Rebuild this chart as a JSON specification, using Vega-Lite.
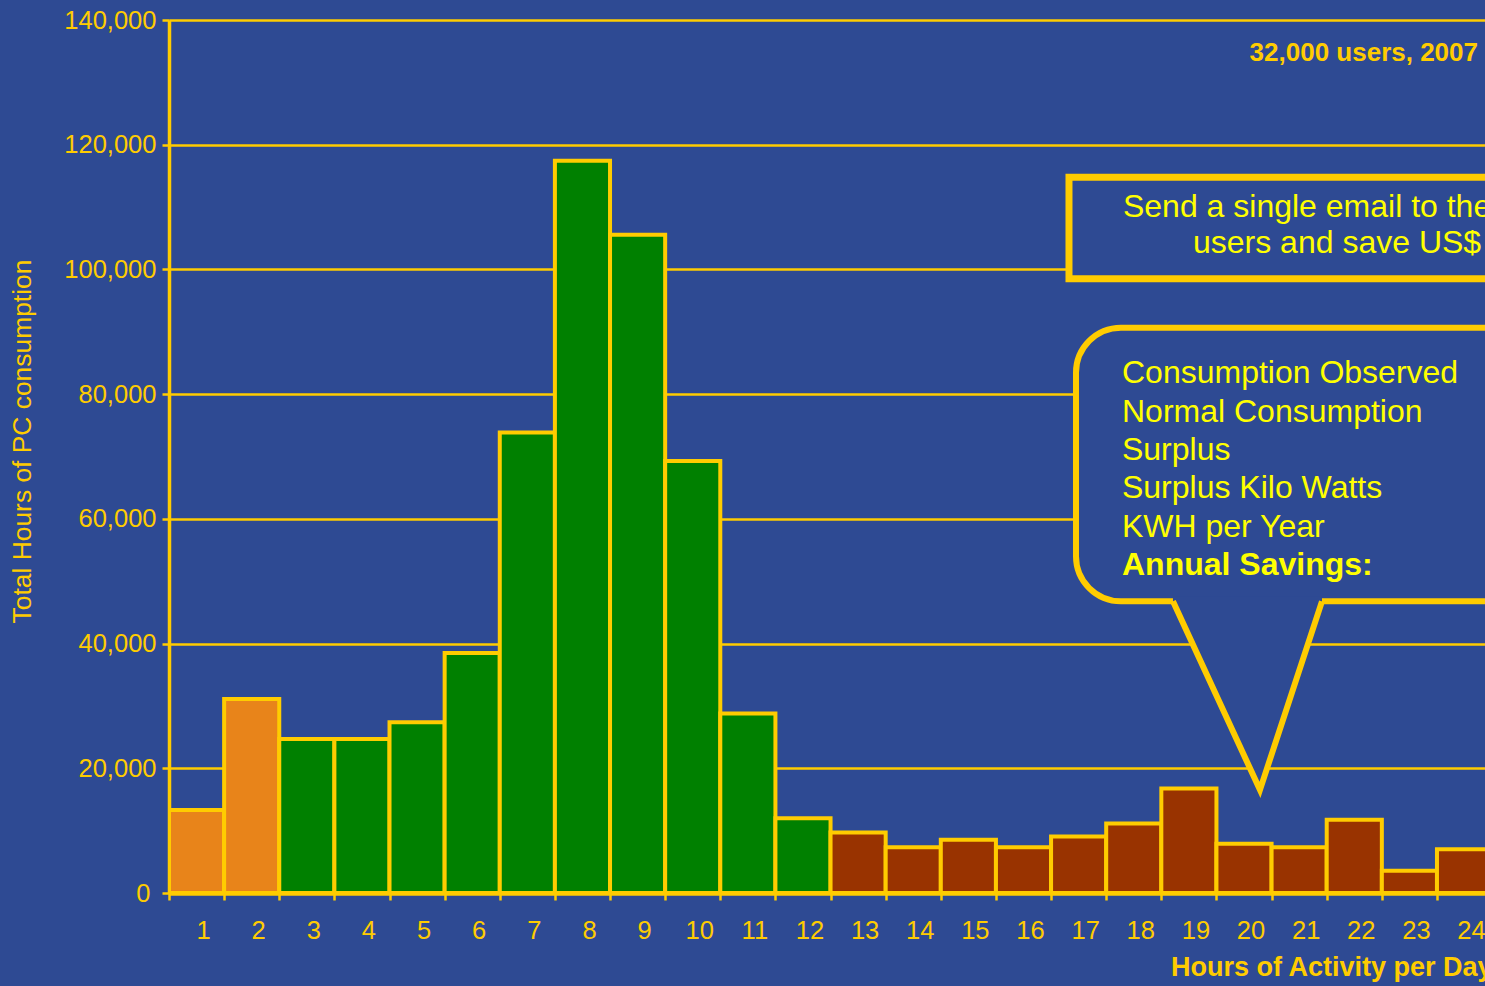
{
  "$schema": "https://vega.github.io/schema/vega-lite/v6.json",
  "width": 1316,
  "height": 873,
  "autosize": {"type": "none"},
  "padding": {"left": 169, "top": 20, "right": 0, "bottom": 93},
  "background": "#2E4A93",
  "config": {
    "view": {"stroke": null},
    "font": "Liberation Sans"
  },
  "layer": [
    {
      "data": {
        "values": [
          {"hour": 1, "total_hours": 13330, "usage": "short"},
          {"hour": 2, "total_hours": 31100, "usage": "short"},
          {"hour": 3, "total_hours": 24700, "usage": "typical"},
          {"hour": 4, "total_hours": 24700, "usage": "typical"},
          {"hour": 5, "total_hours": 27400, "usage": "typical"},
          {"hour": 6, "total_hours": 38500, "usage": "typical"},
          {"hour": 7, "total_hours": 73850, "usage": "typical"},
          {"hour": 8, "total_hours": 117430, "usage": "typical"},
          {"hour": 9, "total_hours": 105560, "usage": "typical"},
          {"hour": 10, "total_hours": 69260, "usage": "typical"},
          {"hour": 11, "total_hours": 28780, "usage": "typical"},
          {"hour": 12, "total_hours": 12000, "usage": "typical"},
          {"hour": 13, "total_hours": 9690, "usage": "long"},
          {"hour": 14, "total_hours": 7340, "usage": "long"},
          {"hour": 15, "total_hours": 8520, "usage": "long"},
          {"hour": 16, "total_hours": 7340, "usage": "long"},
          {"hour": 17, "total_hours": 9050, "usage": "long"},
          {"hour": 18, "total_hours": 11130, "usage": "long"},
          {"hour": 19, "total_hours": 16750, "usage": "long"},
          {"hour": 20, "total_hours": 7880, "usage": "long"},
          {"hour": 21, "total_hours": 7340, "usage": "long"},
          {"hour": 22, "total_hours": 11730, "usage": "long"},
          {"hour": 23, "total_hours": 3550, "usage": "long"},
          {"hour": 24, "total_hours": 7020, "usage": "long"}
        ]
      },
      "mark": {"type": "bar", "stroke": "#FFCC00", "strokeWidth": 4, "clip": true},
      "encoding": {
        "x": {
          "field": "hour",
          "type": "ordinal",
          "sort": null,
          "scale": {"range": [0, 1323.1], "paddingInner": 0, "paddingOuter": 0},
          "axis": {
            "title": "Hours of Activity per Day",
            "titleFont": "Liberation Sans",
            "titleFontSize": 27,
            "titleFontWeight": "bold",
            "titleColor": "#FFCC00",
            "titleAnchor": "end",
            "titleAlign": "right",
            "titleBaseline": "alphabetic",
            "titleY": 82.5,
            "labelAngle": 0,
            "labelFontSize": 25.5,
            "labelColor": "#FFCC00",
            "labelBaseline": "alphabetic",
            "labelPadding": 38.5,
            "labelOffset": 6.5,
            "labelOverlap": false,
            "labelFlush": false,
            "labelBound": false,
            "tickBand": "extent",
            "ticks": true,
            "tickSize": 7,
            "tickWidth": 2.5,
            "tickColor": "#FFCC00",
            "domainColor": "#FFCC00",
            "domainWidth": 4.5,
            "grid": false
          }
        },
        "y": {
          "field": "total_hours",
          "type": "quantitative",
          "title": "Total Hours of PC consumption",
          "scale": {"domain": [0, 140000], "nice": false},
          "axis": {
            "titleFont": "Liberation Sans",
            "titleFontSize": 26.4,
            "titleFontWeight": "normal",
            "titleColor": "#FFCC00",
            "titleAngle": 270,
            "titleAlign": "center",
            "titleBaseline": "middle",
            "titleX": -147,
            "titleY": 421,
            "values": [0, 20000, 40000, 60000, 80000, 100000, 120000, 140000],
            "format": ",d",
            "labelFontSize": 25.5,
            "labelColor": "#FFCC00",
            "labelPadding": {"condition": {"test": "datum.value === 0", "value": 12}, "value": 6},
            "labelFlush": false,
            "labelOverlap": false,
            "ticks": true,
            "tickSize": 7,
            "tickWidth": 2.5,
            "tickColor": "#FFCC00",
            "domainColor": "#FFCC00",
            "domainWidth": 3.5,
            "grid": true,
            "gridColor": "#FFCC00",
            "gridWidth": 2.5,
            "gridOpacity": 1
          }
        },
        "color": {
          "field": "usage",
          "type": "nominal",
          "scale": {"domain": ["short", "typical", "long"], "range": ["#E8841A", "#008000", "#993300"]},
          "legend": null
        }
      }
    },
    {
      "layer": [
        {
          "data": {"values": [{"x": 24.244, "y": 133390, "label": "32,000 users, 2007"}]},
          "mark": {"type": "text", "align": "right", "baseline": "alphabetic", "font": "Liberation Sans", "fontSize": 26, "fontWeight": "bold", "color": "#FFCC00"},
          "encoding": {
            "x": {"field": "x", "type": "quantitative", "scale": {"domain": [0.5, 24.371], "nice": false, "zero": false}, "axis": null},
            "y": {"field": "y", "type": "quantitative", "title": "Total Hours of PC consumption"},
            "text": {"field": "label"}
          }
        },
        {
          "data": {"values": [{"left": 16.825, "right": 25, "top": 114780, "bottom": 98500}]},
          "mark": {"type": "rect", "fill": "#2E4A93", "stroke": "#FFCC00", "strokeWidth": 7, "clip": true},
          "encoding": {
            "x": {"field": "left", "type": "quantitative", "scale": {"domain": [0.5, 24.371], "nice": false, "zero": false}, "axis": null},
            "x2": {"field": "right"},
            "y": {"field": "top", "type": "quantitative", "title": "Total Hours of PC consumption"},
            "y2": {"field": "bottom"}
          }
        },
        {
          "data": {
            "values": [
              {"x": 17.804, "y": 108450, "label": "Send a single email to the"},
              {"x": 19.074, "y": 102680, "label": "users and save US$"}
            ]
          },
          "mark": {"type": "text", "align": "left", "baseline": "alphabetic", "font": "Liberation Sans", "fontSize": 32, "color": "#FFFF00"},
          "encoding": {
            "x": {"field": "x", "type": "quantitative", "scale": {"domain": [0.5, 24.371], "nice": false, "zero": false}, "axis": null},
            "y": {"field": "y", "type": "quantitative", "title": "Total Hours of PC consumption"},
            "text": {"field": "label"}
          }
        },
        {
          "data": {"values": [{"left": 16.952, "right": 26, "top": 90640, "bottom": 46770}]},
          "mark": {"type": "rect", "fill": "#2E4A93", "stroke": "#FFCC00", "strokeWidth": 6, "cornerRadius": 45, "clip": true},
          "encoding": {
            "x": {"field": "left", "type": "quantitative", "scale": {"domain": [0.5, 24.371], "nice": false, "zero": false}, "axis": null},
            "x2": {"field": "right"},
            "y": {"field": "top", "type": "quantitative", "title": "Total Hours of PC consumption"},
            "y2": {"field": "bottom"}
          }
        },
        {
          "data": {
            "values": [
              {"x": 18.711, "y": 46770, "base": 47600},
              {"x": 20.289, "y": 16540, "base": 47600},
              {"x": 21.414, "y": 46770, "base": 47600}
            ]
          },
          "mark": {"type": "area", "fill": "#2E4A93", "stroke": null, "opacity": 1},
          "encoding": {
            "x": {"field": "x", "type": "quantitative", "scale": {"domain": [0.5, 24.371], "nice": false, "zero": false}, "axis": null},
            "y": {"field": "y", "type": "quantitative", "title": "Total Hours of PC consumption"},
            "y2": {"field": "base"}
          }
        },
        {
          "data": {
            "values": [
              {"x": 18.711, "y": 46770},
              {"x": 20.289, "y": 16540},
              {"x": 21.414, "y": 46770}
            ]
          },
          "mark": {"type": "line", "stroke": "#FFCC00", "strokeWidth": 6, "strokeJoin": "miter", "strokeCap": "butt"},
          "encoding": {
            "x": {"field": "x", "type": "quantitative", "scale": {"domain": [0.5, 24.371], "nice": false, "zero": false}, "axis": null},
            "y": {"field": "y", "type": "quantitative", "title": "Total Hours of PC consumption"}
          }
        },
        {
          "data": {
            "values": [
              {"x": 17.786, "y": 81820, "label": "Consumption Observed"},
              {"x": 17.786, "y": 75570, "label": "Normal Consumption"},
              {"x": 17.786, "y": 69470, "label": "Surplus"},
              {"x": 17.786, "y": 63380, "label": "Surplus Kilo Watts"},
              {"x": 17.786, "y": 57120, "label": "KWH per Year"}
            ]
          },
          "mark": {"type": "text", "align": "left", "baseline": "alphabetic", "font": "Liberation Sans", "fontSize": 32, "color": "#FFFF00"},
          "encoding": {
            "x": {"field": "x", "type": "quantitative", "scale": {"domain": [0.5, 24.371], "nice": false, "zero": false}, "axis": null},
            "y": {"field": "y", "type": "quantitative", "title": "Total Hours of PC consumption"},
            "text": {"field": "label"}
          }
        },
        {
          "data": {"values": [{"x": 17.786, "y": 51020, "label": "Annual Savings:"}]},
          "mark": {"type": "text", "align": "left", "baseline": "alphabetic", "font": "Liberation Sans", "fontSize": 32, "fontWeight": "bold", "color": "#FFFF00"},
          "encoding": {
            "x": {"field": "x", "type": "quantitative", "scale": {"domain": [0.5, 24.371], "nice": false, "zero": false}, "axis": null},
            "y": {"field": "y", "type": "quantitative", "title": "Total Hours of PC consumption"},
            "text": {"field": "label"}
          }
        }
      ]
    }
  ],
  "resolve": {"scale": {"x": "independent"}}
}
